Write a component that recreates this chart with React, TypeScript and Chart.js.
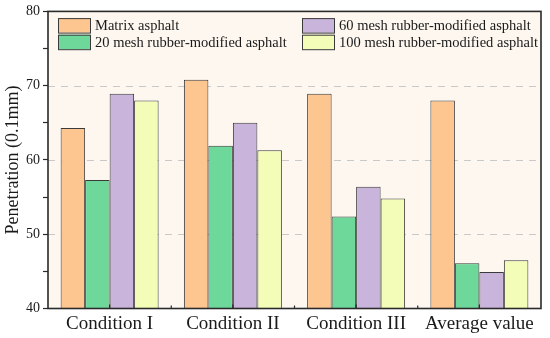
import React, { useEffect, useRef } from 'react';
import { Chart, registerables } from 'chart.js';

Chart.register(...registerables);

const categories = ['Condition I', 'Condition II', 'Condition III', 'Average value'];
const seriesNames = [
  'Matrix asphalt',
  '20 mesh rubber-modified asphalt',
  '60 mesh rubber-modified asphalt',
  '100 mesh rubber-modified asphalt',
];
const matrixAsphalt = [64.3, 70.8, 68.9, 68.0];
const mesh20 = [57.3, 61.9, 52.4, 46.1];
const mesh60 = [68.9, 65.0, 56.4, 44.9];
const mesh100 = [68.0, 61.3, 54.8, 46.5];
const seriesColors = ['#FDC590', '#6ED89A', '#C9B4DB', '#F4FDB8'];
const yMin = 40;
const yMax = 80;
const yStep = 5;

const SERIF = "'Liberation Serif', 'Times New Roman', serif";

const framePlugin = {
  id: 'frameLegend',
  beforeDraw(chart: any) {
    const { ctx, chartArea: ca } = chart;
    ctx.save();
    ctx.fillStyle = '#FDF7F0';
    ctx.fillRect(ca.left, ca.top, ca.right - ca.left, ca.bottom - ca.top);
    // dashed grid lines
    const ys = chart.scales.y;
    ctx.strokeStyle = '#C9C9C9';
    ctx.lineWidth = 1;
    ctx.setLineDash([7, 6]);
    [50, 60, 70].forEach((v) => {
      const y = Math.round(ys.getPixelForValue(v)) + 0.5;
      ctx.beginPath();
      ctx.moveTo(ca.left, y);
      ctx.lineTo(ca.right, y);
      ctx.stroke();
    });
    ctx.restore();
  },
  afterDraw(chart: any) {
    const { ctx, chartArea: ca } = chart;
    ctx.save();
    // frame
    ctx.strokeStyle = '#2a2a2a';
    ctx.lineWidth = 1.6;
    ctx.strokeRect(ca.left, ca.top, ca.right - ca.left, ca.bottom - ca.top);
    // inward x ticks at centers and boundaries
    const xs = chart.scales.x;
    const n = chart.data.labels.length;
    ctx.lineWidth = 1.2;
    for (let i = 0; i < n; i++) {
      const c = xs.getPixelForValue(i);
      ctx.beginPath();
      ctx.moveTo(c, ca.bottom);
      ctx.lineTo(c, ca.bottom - 4);
      ctx.stroke();
      if (i > 0) {
        const b = (xs.getPixelForValue(i - 1) + c) / 2;
        ctx.beginPath();
        ctx.moveTo(b, ca.bottom);
        ctx.lineTo(b, ca.bottom - 3);
        ctx.stroke();
      }
    }
    // legend (2 columns x 2 rows)
    const ds = chart.data.datasets;
    const colX = [ca.left + 10, ca.left + 254];
    const rowY = [ca.top + 6.7, ca.top + 23.3];
    const bw = 32;
    const bh = 14.5;
    ctx.font = `14.5px ${SERIF}`;
    ctx.textBaseline = 'middle';
    ctx.textAlign = 'left';
    ds.forEach((d: any, i: number) => {
      const col = Math.floor(i / 2);
      const row = i % 2;
      const x = colX[col];
      const y = rowY[row];
      ctx.fillStyle = d.backgroundColor;
      ctx.fillRect(x, y, bw, bh);
      ctx.strokeStyle = '#3a3a3a';
      ctx.lineWidth = 1;
      ctx.strokeRect(x + 0.5, y + 0.5, bw, bh);
      ctx.fillStyle = '#1a1a1a';
      ctx.fillText(d.label, x + bw + 5, y + bh / 2 + 1);
    });
    ctx.restore();
  },
};

export default function App() {
  const ref = useRef<HTMLCanvasElement | null>(null);
  useEffect(() => {
    if (!ref.current) return;
    const seriesData = [matrixAsphalt, mesh20, mesh60, mesh100];
    const chart = new Chart(ref.current, {
      type: 'bar',
      data: {
        labels: categories,
        datasets: seriesNames.map((name, i) => ({
          label: name,
          data: seriesData[i],
          backgroundColor: seriesColors[i],
          borderColor: '#3a3a3a',
          borderWidth: 1,
          barPercentage: 1,
          categoryPercentage: 0.795,
        })),
      },
      options: {
        responsive: false,
        animation: false,
        devicePixelRatio: 1,
        layout: { padding: { top: 10, right: 9, left: 0, bottom: 0 } },
        plugins: {
          legend: { display: false },
          tooltip: { enabled: false },
        },
        scales: {
          x: {
            grid: { display: false, drawTicks: false },
            border: { display: false },
            ticks: {
              font: { family: SERIF, size: 19 },
              color: '#1a1a1a',
              padding: 4,
              maxRotation: 0,
            },
            afterFit(scale: any) {
              scale.height = 29.5;
            },
          },
          y: {
            min: yMin,
            max: yMax,
            border: { display: false },
            grid: {
              drawOnChartArea: false,
              drawTicks: true,
              tickLength: 5,
              tickColor: '#2a2a2a',
              tickWidth: 1.2,
            },
            ticks: {
              stepSize: yStep,
              font: { family: SERIF, size: 14 },
              color: '#1a1a1a',
              padding: 3,
              callback: (v: any) => (Number(v) % 10 === 0 ? String(v) : ''),
            },
            title: {
              display: true,
              text: 'Penetration (0.1mm)',
              font: { family: SERIF, size: 18 },
              color: '#1a1a1a',
              padding: { top: 2, bottom: 0 },
            },
            afterFit(scale: any) {
              scale.width = 48;
            },
          },
        },
      },
      plugins: [framePlugin],
    });
    return () => chart.destroy();
  }, []);
  return (
    <div style={{ position: 'absolute', left: 0, top: 0, width: 550, height: 338, background: '#fff' }}>
      <canvas ref={ref} width={550} height={338} />
    </div>
  );
}
